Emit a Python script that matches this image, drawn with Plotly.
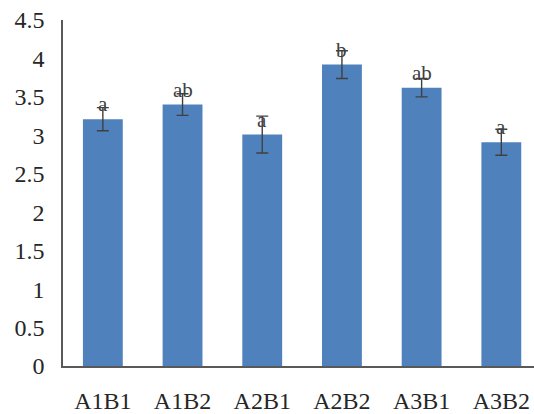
import plotly.graph_objects as go

# Treatment groups, mean values, standard errors and significance letters
groups = ["A1B1", "A1B2", "A2B1", "A2B2", "A3B1", "A3B2"]
means = [3.21, 3.40, 3.01, 3.92, 3.62, 2.91]
errors = [0.15, 0.14, 0.24, 0.18, 0.12, 0.17]
letters = ["a", "ab", "a", "b", "ab", "a"]

y_ticks = [0, 0.5, 1, 1.5, 2, 2.5, 3, 3.5, 4, 4.5]
y_tick_text = ["0", "0.5", "1", "1.5", "2", "2.5", "3", "3.5", "4", "4.5"]

font_family = "Liberation Serif, Times New Roman, serif"

fig = go.Figure()
fig.add_trace(go.Bar(
    x=groups,
    y=means,
    marker=dict(color="#4F81BD", line=dict(width=0)),
    error_y=dict(type="data", array=errors, visible=True,
                 color="#404040", thickness=1.4, width=6),
    width=0.5,
))

# Significance letters just above each bar
for g, m, lab in zip(groups, means, letters):
    fig.add_annotation(
        x=g, y=m, text=lab, showarrow=False,
        yanchor="bottom", yshift=1,
        font=dict(family=font_family, size=21, color="#404040"),
    )

fig.update_layout(
    width=534, height=414,
    margin=dict(l=63, r=0, t=20, b=41),
    paper_bgcolor="white", plot_bgcolor="white",
    showlegend=False,
    font=dict(family=font_family, color="#262626"),
    xaxis=dict(
        range=[-0.5, 5.41],
        showline=True, linecolor="#595959", linewidth=1.5,
        showgrid=False, ticks="",
        tickfont=dict(size=24, family=font_family, color="#262626"),
        ticklabelstandoff=12,
    ),
    yaxis=dict(
        range=[0, 4.5],
        tickvals=y_ticks, ticktext=y_tick_text,
        showline=True, linecolor="#595959", linewidth=1.5,
        showgrid=False, zeroline=False, ticks="",
        tickfont=dict(size=24, family=font_family, color="#262626"),
        ticklabelstandoff=12,
    ),
)

fig.write_html("out.html")
